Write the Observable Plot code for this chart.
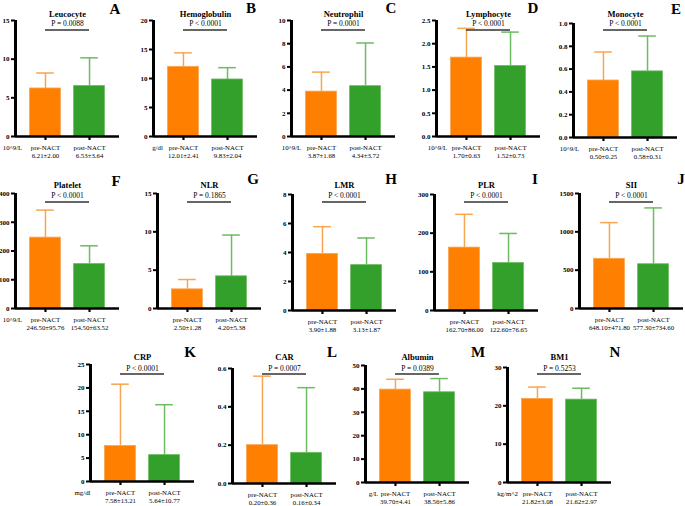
<!DOCTYPE html>
<html><head><meta charset="utf-8">
<script src="https://cdn.jsdelivr.net/npm/d3@7"></script>
<script src="https://cdn.jsdelivr.net/npm/@observablehq/plot@0.6"></script>
<style>
body{margin:0;background:#fff;}
#fig{position:relative;width:685px;height:506px;overflow:hidden;background:#fff;font-family:"Liberation Serif",serif;}
.panel{position:absolute;}
.letter{position:absolute;font-weight:bold;font-size:15px;line-height:15px;transform:translateX(-50%);color:#000;}
</style></head><body><div id="fig"></div>
<script>
// ---- data ----
const titles = ["Leucocyte","Hemoglobulin","Neutrophil","Lymphocyte","Monocyte","Platelet","NLR","LMR","PLR","SII","CRP","CAR","Albumin","BM1"];
const letters = ["A","B","C","D","E","F","G","H","I","J","K","L","M","N"];
const pValues = ["P = 0.0088","P < 0.0001","P = 0.0001","P < 0.0001","P < 0.0001","P < 0.0001","P = 0.1865","P < 0.0001","P < 0.0001","P < 0.0001","P < 0.0001","P = 0.0007","P = 0.0389","P = 0.5253"];
const units = ["10^9/L","g/dl","10^9/L","10^9/L","10^9/L","10^9/L","","","","","mg/dl","","g/L","kg/m^2"];
const groups = ["pre-NACT","post-NACT"];
const preMean = [6.21,12.01,3.87,1.70,0.50,246.50,2.50,3.90,162.70,648.10,7.58,0.20,39.70,21.82];
const preSD   = [2.00,2.41,1.68,0.63,0.25,95.76,1.28,1.88,86.00,471.80,13.21,0.36,4.41,3.08];
const postMean = [6.53,9.83,4.34,1.52,0.58,154.50,4.20,3.13,122.60,577.30,5.64,0.16,38.56,21.62];
const postSD   = [3.64,2.04,3.72,0.73,0.31,63.52,5.38,1.87,76.65,734.60,10.77,0.34,5.86,2.97];
const yMax  = [15,20,10,2.5,1,400,15,8,300,1500,25,0.6,50,30];
const yStep = [5,5,2,0.5,0.2,100,5,2,100,500,5,0.2,10,10];
const yDecimals = [0,0,0,1,1,0,0,0,0,0,0,1,0,0];

// ---- layout (pixels) ----
const axisX = [15,153,291,436,573, 15,157,292,434,579, 90,232,365,507];
const topY  = [20,20,20,20,23, 193,193,194,194,193, 364,368,365,367];
const baseY = [136,136,136,136,137, 308,308,310,310,308, 481,483,482,482];
const unitX = [12,157,291,437,569, 12,0,0,0,0, 82,0,373,507];
const letterX = [115,251,391,533,676, 116,253,391,535,681, 190,332,478,615];
const letterY = [13,12,12,12,13, 185,183,183,183,183, 356,356,356,356];
const rowTitleY = [13.5,185,357], rowPY = [23,195,368], rowBracketY = [29.5,201.5,373.5];

const fills = ["#FF8000","#33A02C"];
const lights = ["#F8A552","#6DBB62"];

const fig = document.getElementById("fig");

function panel(i){
  const W = 104, mL = 30, mR = 8, mT = 26, mB = 26;
  const h = baseY[i] - topY[i];
  const row = i < 5 ? 0 : (i < 10 ? 1 : 2);
  const pos = [0.68, 1.68];
  const mid = (pos[0]+pos[1])/2;
  const rows = groups.map((g,k)=>({
    g, pos: pos[k],
    mean: k ? postMean[i] : preMean[i],
    sd: k ? postSD[i] : preSD[i],
    fill: fills[k], light: lights[k]
  }));
  const nT = Math.round(yMax[i]/yStep[i]);
  const ticks = d3.range(0, nT+1).map(k => +(k*yStep[i]).toFixed(6));
  const fmt = d3.format(`.${yDecimals[i]}f`);
  const marks = [
    Plot.rectY(rows, {x1: d=>d.pos-0.35, x2: d=>d.pos+0.35, y1: 0, y2: "mean", fill: d=>d.fill, stroke: d=>d.light, strokeWidth: 0.8}),
    Plot.ruleX(rows, {x: "pos", y1: "mean", y2: d=>d.mean+d.sd, stroke: d=>d.light, strokeWidth: 1.5}),
    Plot.ruleY(rows, {y: d=>d.mean+d.sd, x1: d=>d.pos-0.2, x2: d=>d.pos+0.2, stroke: d=>d.light, strokeWidth: 1.5}),
    Plot.axisY({ticks, tickFormat: fmt, tickSize: 4, tickPadding: 2, fontSize: 7, fontWeight: "bold", stroke: "#000", fill: "#000", strokeWidth: 2, label: null}),
    Plot.axisX({ticks: pos, tickFormat: () => "", tickSize: 4, stroke: "#000", strokeWidth: 2.2, label: null}),
    Plot.ruleY([0], {stroke: "#000", strokeWidth: 2.6}),
    Plot.ruleX([0], {stroke: "#000", strokeWidth: 3}),
    Plot.text([titles[i]], {x: () => mid, frameAnchor: "top", dy: rowTitleY[row]-topY[i], fontWeight: "bold", fontSize: 8.5, fill: "#000", lineAnchor: "middle"}),
    Plot.text([pValues[i]], {x: () => mid, frameAnchor: "top", dy: rowPY[row]-topY[i], fontSize: 7.5, fill: "#000", lineAnchor: "middle"}),
    Plot.ruleY([yMax[i]], {x1: () => pos[0], x2: () => pos[1], dy: rowBracketY[row]-topY[i], stroke: "#333", strokeWidth: 1.5}),
    Plot.text(rows, {x: "pos", text: d => `${d.g}\n${d.mean.toFixed(2)}±${d.sd.toFixed(2)}`, frameAnchor: "bottom", dy: 8, lineAnchor: "top", textAnchor: "middle", fontSize: 6.8, fill: "#000", lineHeight: 1.15})
  ];
  if (units[i]) marks.push(Plot.text([units[i]], {frameAnchor: "bottom-left", dx: unitX[i]-axisX[i], dy: 11.5, fontSize: 6.8, fill: "#000", textAnchor: "middle", lineAnchor: "middle"}));
  const svg = Plot.plot({
    width: mL+W+mR, height: mT+h+mB,
    marginLeft: mL, marginRight: mR, marginTop: mT, marginBottom: mB,
    style: {background: "transparent", overflow: "visible", fontFamily: "Liberation Serif", color: "#000"},
    x: {domain: [0, 2.36]},
    y: {domain: [0, yMax[i]]},
    color: {type: "identity"},
    marks
  });
  svg.classList.add("panel");
  svg.style.left = (axisX[i]-mL) + "px";
  svg.style.top = (topY[i]-mT) + "px";
  svg.style.maxWidth = "none";
  fig.appendChild(svg);
  const lt = document.createElement("div");
  lt.className = "letter";
  lt.textContent = letters[i];
  lt.style.left = letterX[i] + "px";
  lt.style.top = (letterY[i]-11) + "px";
  fig.appendChild(lt);
}
for (let i = 0; i < titles.length; i++) panel(i);
</script>
</body></html>
